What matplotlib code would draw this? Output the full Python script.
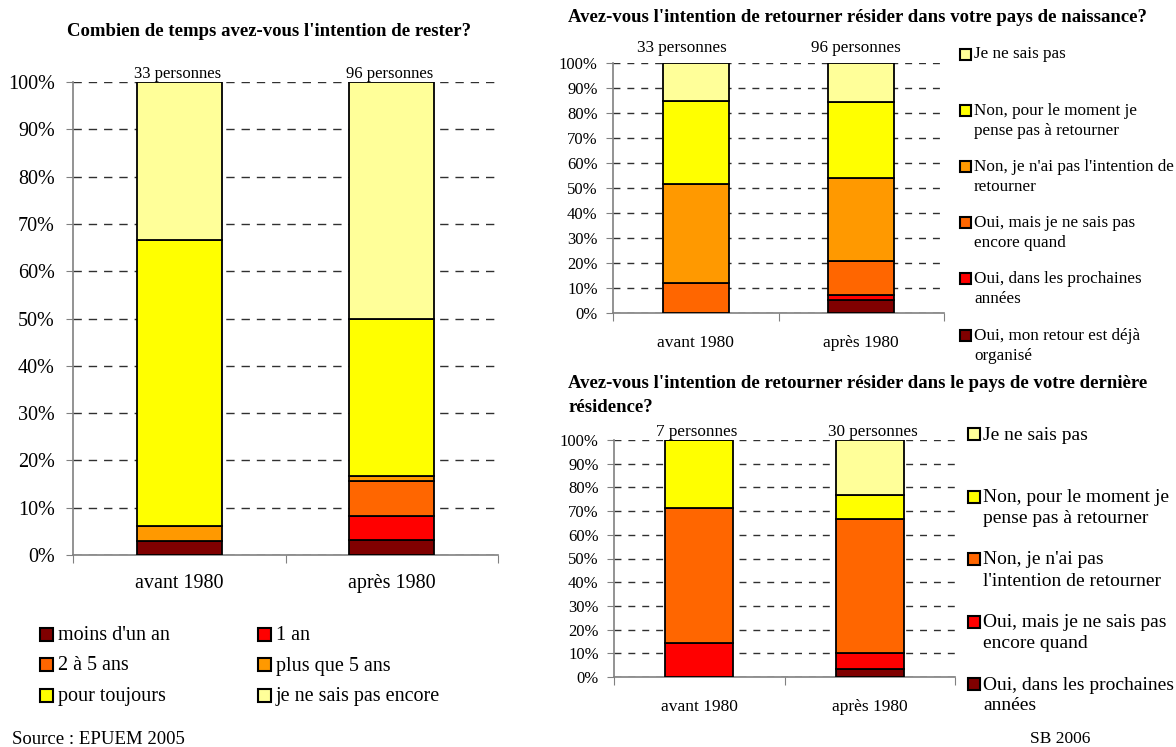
import numpy as np
import matplotlib.pyplot as plt
from matplotlib.patches import Rectangle
from matplotlib.ticker import PercentFormatter

plt.rcParams['font.family'] = ['Liberation Serif', 'DejaVu Serif']

# data (percent of respondents, bottom to top)
#-------------------------------------------------------------------------------
periods = ['avant 1980', 'après 1980']

# left chart: how long do you intend to stay?
stayCounts = ['33 personnes', '96 personnes']
stayLabels = ["moins d'un an", '1 an', '2 à 5 ans', 'plus que 5 ans',
              'pour toujours', 'je ne sais pas encore']
stayValues = np.array([[3.0, 3.1],
                       [0.0, 5.2],
                       [0.0, 7.3],
                       [3.1, 1.0],
                       [60.6, 33.4],
                       [33.3, 50.0]])

# top right: return to country of birth?
birthCounts = ['33 personnes', '96 personnes']
birthLabels = ['Oui, mon retour est déjà\norganisé',
               'Oui, dans les prochaines\nannées',
               'Oui, mais je ne sais pas\nencore quand',
               "Non, je n'ai pas l'intention de\nretourner",
               'Non, pour le moment je\npense pas à retourner',
               'Je ne sais pas']
birthValues = np.array([[0.0, 5.2],
                        [0.0, 2.1],
                        [12.1, 13.5],
                        [39.4, 33.4],
                        [33.3, 30.2],
                        [15.2, 15.6]])

# bottom right: return to country of last residence?
lastCounts = ['7 personnes', '30 personnes']
lastLabels = ['Oui, dans les prochaines\nannées',
              'Oui, mais je ne sais pas\nencore quand',
              "Non, je n'ai pas\nl'intention de retourner",
              'Non, pour le moment je\npense pas à retourner',
              'Je ne sais pas']
lastValues = np.array([[0.0, 3.3],
                       [14.3, 6.7],
                       [57.1, 56.7],
                       [28.6, 10.0],
                       [0.0, 23.3]])

# colours
darkRed = '#800000'
red = '#FF0000'
darkOrange = '#FF6600'
orange = '#FF9900'
yellow = '#FFFF00'
lightYellow = '#FFFF99'
stayColors = [darkRed, red, darkOrange, orange, yellow, lightYellow]
birthColors = [darkRed, red, darkOrange, orange, yellow, lightYellow]
lastColors = [darkRed, red, darkOrange, yellow, lightYellow]

W, H = 1176, 747
fig = plt.figure(figsize=(W/100, H/100), dpi=100)


def axBox(x0, y0, x1, y1):
    # pixel box (top-left origin) -> figure fraction
    return [x0/W, 1 - y1/H, (x1 - x0)/W, (y1 - y0)/H]


def stackedBars(ax, values, colors, counts, tickSize, catSize, countSize, catPad, yPad, dash,
                countShift=((0, 1), (0, 1))):
    x = np.arange(len(periods))
    bottom = np.zeros(len(periods))
    for vals, c in zip(values, colors):
        ax.bar(x, vals, bottom=bottom, width=0.4, color=c,
               edgecolor='black', linewidth=1.3, zorder=3)
        bottom += vals
    for xi, n, shift in zip(x, counts, countShift):
        ax.annotate(n, (xi, 100), xytext=shift, textcoords='offset points',
                    ha='center', va='bottom', fontsize=countSize)

    ax.set_xlim(-0.5, 1.5)
    ax.set_ylim(0, 100)
    ax.set_yticks(np.arange(0, 101, 10))
    ax.yaxis.set_major_formatter(PercentFormatter(decimals=0))
    ax.set_xticks([-0.5, 0.5, 1.5])
    ax.set_xticklabels([])
    ax.set_xticks(x, minor=True)
    ax.set_xticklabels(periods, minor=True)
    ax.tick_params(axis='x', which='minor', length=0, pad=catPad, labelsize=catSize)
    ax.tick_params(axis='x', which='major', length=6, color='#808080')
    ax.tick_params(axis='y', length=5, color='#808080', pad=yPad, labelsize=tickSize)
    ax.yaxis.grid(True, color='#303030', linestyle=(0, dash), linewidth=1)
    ax.set_axisbelow(True)
    for s in ['top', 'right']:
        ax.spines[s].set_visible(False)
    for s in ['left', 'bottom']:
        ax.spines[s].set_color('#808080')
        ax.spines[s].set_linewidth(1.2)


def legendEntry(x, y, label, color, size, box=12, lineStep=20, base=5, gap=3):
    # y: pixel centre of the box / first text line
    fig.patches.append(Rectangle((x/W, 1 - (y + box/2)/H), box/W, box/H,
                                 transform=fig.transFigure, facecolor=color,
                                 edgecolor='black', linewidth=1.5))
    for k, line in enumerate(label.split('\n')):
        fig.text((x + box + gap)/W, 1 - (y + base + k*lineStep)/H, line,
                 ha='left', va='baseline', fontsize=size)


# left chart
#-------------------------------------------------------------------------------
ax1 = fig.add_axes(axBox(73, 82, 498, 555))
stackedBars(ax1, stayValues, stayColors, stayCounts, 14.5, 14.5, 12, 14, 8, (6, 5),
            countShift=((-1, 0), (-1.5, 0)))
fig.text(269/W, 1 - 32/H, "Combien de temps avez-vous l'intention de rester?",
         ha='center', va='center', fontsize=13.5, fontweight='bold')

for i, (lab, c) in enumerate(zip(stayLabels, stayColors)):
    col, row = i % 2, i // 2
    legendEntry(40 + col*218, 634 + row*30.5, lab, c, 14.5, box=13, base=6, gap=5)

# top right chart
#-------------------------------------------------------------------------------
ax2 = fig.add_axes(axBox(613, 63, 944, 313))
stackedBars(ax2, birthValues, birthColors, birthCounts, 12, 12.5, 12.3, 16, 6, (5, 5),
            countShift=((-10, 5), (-4, 5)))
fig.text(568/W, 1 - 17/H,
         "Avez-vous l'intention de retourner résider dans votre pays de naissance?",
         ha='left', va='center', fontsize=13.5, fontweight='bold')

for i, (lab, c) in enumerate(zip(birthLabels[::-1], birthColors[::-1])):
    legendEntry(960, 54 + i*56.2, lab, c, 12.3, box=11, lineStep=20, base=4.5)

# bottom right chart
#-------------------------------------------------------------------------------
ax3 = fig.add_axes(axBox(614, 440, 955, 677))
stackedBars(ax3, lastValues, lastColors, lastCounts, 12, 12.5, 12.3, 16, 6, (5, 5),
            countShift=((-2, 0), (2, 0)))
fig.text(568/W, 1 - 384/H,
         "Avez-vous l'intention de retourner résider dans le pays de votre dernière",
         ha='left', va='center', fontsize=13.5, fontweight='bold')
fig.text(568/W, 1 - 408/H, 'résidence?',
         ha='left', va='center', fontsize=13.5, fontweight='bold')

for i, (lab, c) in enumerate(zip(lastLabels[::-1], lastColors[::-1])):
    legendEntry(968, 434 + i*62.5, lab, c, 14, box=12, lineStep=21, base=5.5)

fig.text(12/W, 1 - 739/H, 'Source : EPUEM 2005', ha='left', va='center', fontsize=13.5)
fig.text(1090/W, 1 - 739/H, 'SB 2006', ha='right', va='center', fontsize=12.5)

fig.savefig('out.png', dpi=100)
